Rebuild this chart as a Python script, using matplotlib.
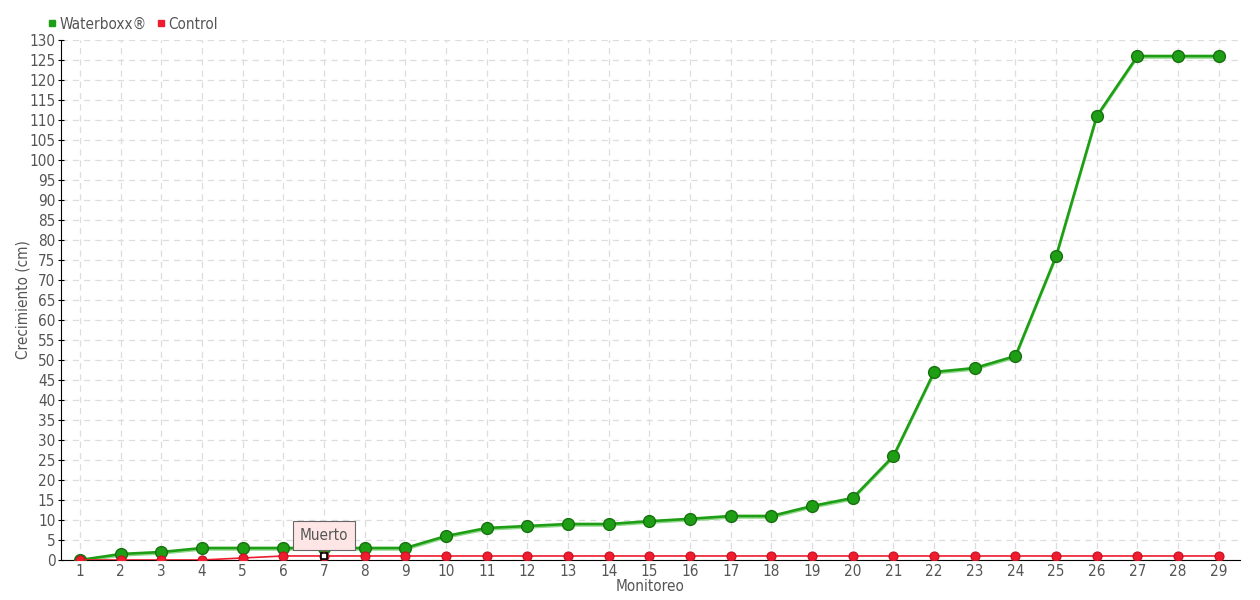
import matplotlib
matplotlib.use("Agg")
import matplotlib.pyplot as plt
import matplotlib.transforms as mtransforms
from matplotlib.lines import Line2D

plt.rcParams['font.family'] = ['DejaVu Sans']
plt.rcParams['font.stretch'] = 'condensed'

# data
monitoreo = list(range(1, 30))
waterboxx = [0, 1.5, 2, 3, 3, 3, 3, 3, 3, 6, 8, 8.5, 9, 9, 9.7, 10.3, 11, 11,
             13.5, 15.5, 26, 47, 48, 51, 76, 111, 126, 126, 126]
control = [0, 0, 0, 0, 0.5, 1, 1, 1, 1, 1, 1, 1, 1, 1, 1, 1, 1, 1, 1, 1, 1,
           1, 1, 1, 1, 1, 1, 1, 1]
muerto_idx = 6  # monitoreo 7

green = '#1e9e14'
green_light = '#8fd88a'
red = '#ee1c2e'
text_col = '#555555'

fig = plt.figure(figsize=(12.6, 6), dpi=100)
ax = fig.add_axes([0.0484, 0.0667, 0.9357, 0.8666])

# light shadow line under the green series
shadow = mtransforms.offset_copy(ax.transData, fig=fig, x=0, y=-1.5, units='dots')
ax.plot(monitoreo, waterboxx, color=green_light, lw=1.8, transform=shadow, zorder=3)
ax.plot(monitoreo, waterboxx, color=green, lw=1.9, zorder=4,
        marker='o', ms=8.5, mfc=green, mec='#17700f', mew=1)

ax.plot(monitoreo, control, color=red, lw=1.2, zorder=5,
        marker='o', ms=6.5, mfc=red, mec='#c8101f', mew=0.8)
ax.plot([monitoreo[muerto_idx]], [control[muerto_idx]], marker='s', ms=4.5,
        mfc='white', mec='black', mew=1.2, ls='none', zorder=7)

ax.annotate('Muerto', xy=(monitoreo[muerto_idx], control[muerto_idx]),
            xytext=(0, 15), textcoords='offset points', ha='center', va='center',
            fontsize=11, color=text_col, zorder=8,
            bbox=dict(boxstyle='square,pad=0.45', fc='#ffe6e6', ec='#666666', lw=0.8),
            arrowprops=dict(arrowstyle='-', color='#666666', lw=0.8))

ax.set_xlim(0.53, 29.52)
ax.set_ylim(0, 130)
ax.set_xticks(monitoreo)
ax.set_yticks(range(0, 131, 5))
ax.grid(True, color='#dddddd', ls=(0, (5, 4)), lw=0.9)
ax.set_axisbelow(True)
for s in ['top', 'right']:
    ax.spines[s].set_visible(False)
ax.spines['left'].set_color('black')
ax.spines['bottom'].set_color('black')
ax.tick_params(axis='y', length=4, direction='inout', pad=2, labelsize=11, labelcolor=text_col)
ax.tick_params(axis='x', length=0, pad=3, labelsize=11, labelcolor=text_col)

ax.set_xlabel('Monitoreo', fontsize=11, color=text_col, labelpad=0)
ax.set_ylabel('Crecimiento (cm)', fontsize=11, color=text_col)
ax.yaxis.set_label_coords(-0.026, 0.5)

handles = [Line2D([], [], marker='s', ls='none', color=green, ms=5),
           Line2D([], [], marker='s', ls='none', color=red, ms=5)]
fig.legend(handles, ['Waterboxx®', 'Control'], loc='upper left',
           bbox_to_anchor=(0.027, 0.995), ncol=2, frameon=False, fontsize=11,
           handlelength=0.6, handletextpad=0.2, columnspacing=0.6,
           labelcolor=text_col)

fig.savefig('out.png', dpi=100)
